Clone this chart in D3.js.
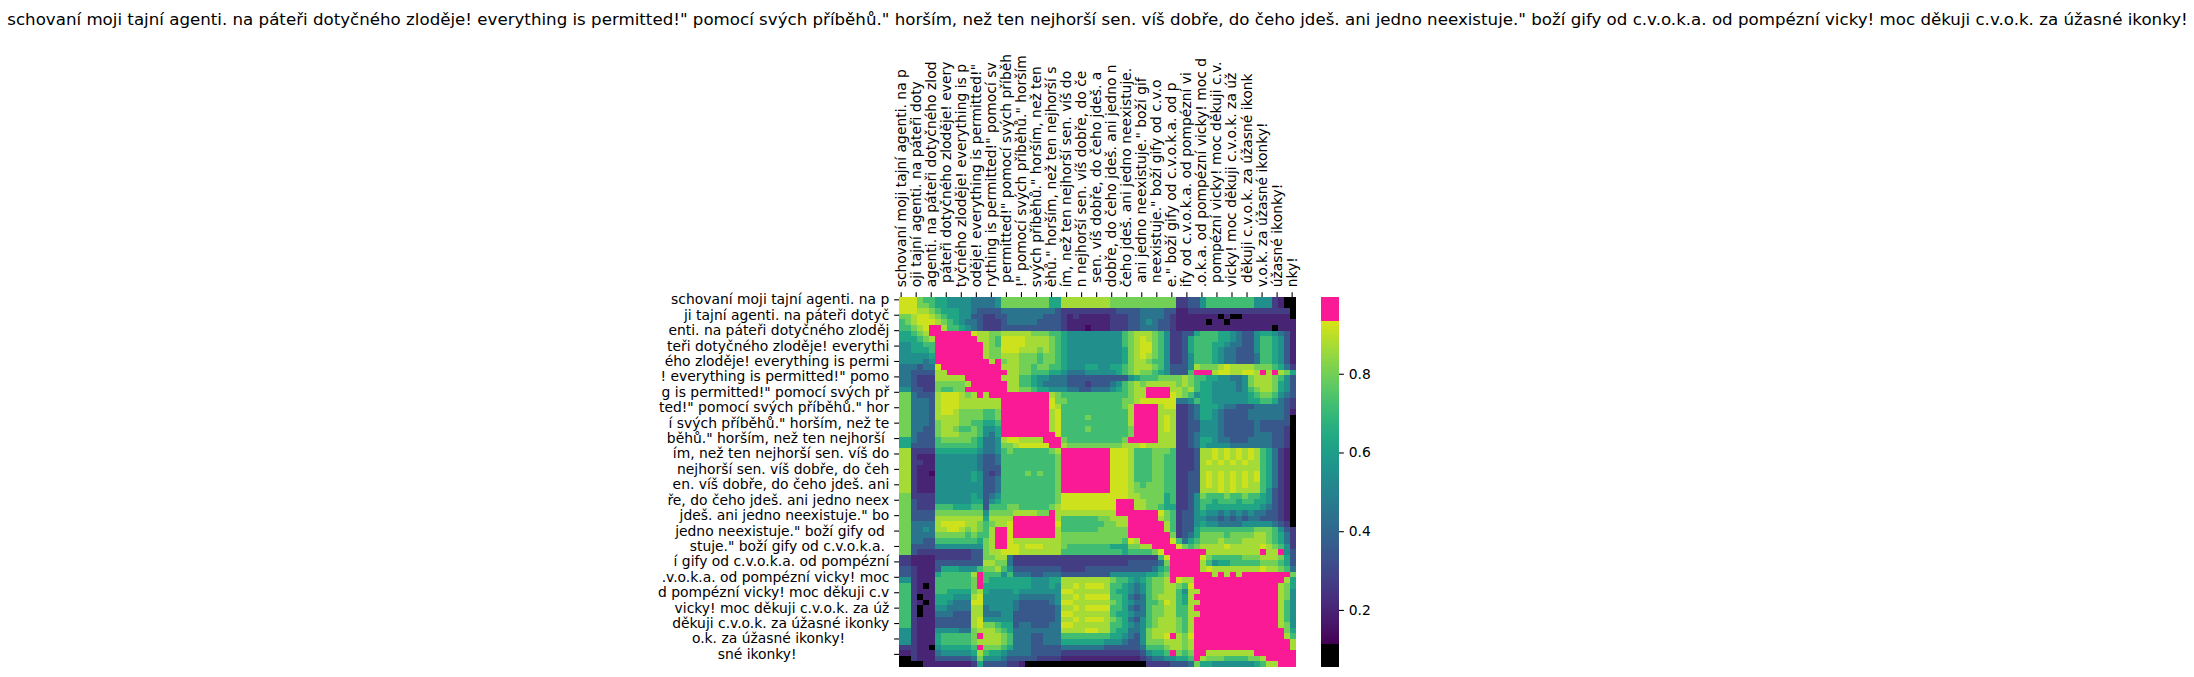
<!DOCTYPE html>
<html><head><meta charset="utf-8">
<script src="https://cdn.jsdelivr.net/npm/d3@7"></script>
<style>
html,body{margin:0;padding:0;background:#fff}
svg{display:block}
text{font-family:"DejaVu Sans",sans-serif;fill:#000;white-space:pre}
</style></head><body>
<svg id="chart" width="2194" height="677"></svg>
<script>
const titleText = 'schovaní moji tajní agenti. na páteři dotyčného zloděje! everything is permitted!" pomocí svých příběhů." horším, než ten nejhorší sen. víš dobře, do čeho jdeš. ani jedno neexistuje." boží gify od c.v.o.k.a. od pompézní vicky! moc děkuji c.v.o.k. za úžasné ikonky!';

const xTickChars = d3.range(0, 270, 10);
const yTickChars = d3.range(0, 264, 11);
const xLabels = [
 'schovaní moji tajní agenti. na p','oji tajní agenti. na páteři doty','agenti. na páteři dotyčného zlod',
 ' páteři dotyčného zloděje! every','tyčného zloděje! everything is p','oděje! everything is permitted!"',
 'rything is permitted!" pomocí sv',' permitted!" pomocí svých příběh','!" pomocí svých příběhů." horším',
 'svých příběhů." horším, než ten ','ěhů." horším, než ten nejhorší s','ím, než ten nejhorší sen. víš do',
 'n nejhorší sen. víš dobře, do če',' sen. víš dobře, do čeho jdeš. a','dobře, do čeho jdeš. ani jedno n',
 'čeho jdeš. ani jedno neexistuje.',' ani jedno neexistuje." boží gif',' neexistuje." boží gify od c.v.o',
 'e." boží gify od c.v.o.k.a. od p','ify od c.v.o.k.a. od pompézní vi','.o.k.a. od pompézní vicky! moc d',
 ' pompézní vicky! moc děkuji c.v.','vicky! moc děkuji c.v.o.k. za úž',' děkuji c.v.o.k. za úžasné ikonk',
 'v.o.k. za úžasné ikonky!','úžasné ikonky!','nky!'
];
const yLabels = [
 'schovaní moji tajní agenti. na p','ji tajní agenti. na páteři dotyč','enti. na páteři dotyčného zloděj',
 'teři dotyčného zloděje! everythi','ého zloděje! everything is permi','! everything is permitted!" pomo',
 'g is permitted!" pomocí svých př','ted!" pomocí svých příběhů." hor','í svých příběhů." horším, než te',
 'běhů." horším, než ten nejhorší ','ím, než ten nejhorší sen. víš do',' nejhorší sen. víš dobře, do čeh',
 'en. víš dobře, do čeho jdeš. ani','ře, do čeho jdeš. ani jedno neex',' jdeš. ani jedno neexistuje." bo',
 'jedno neexistuje." boží gify od ','stuje." boží gify od c.v.o.k.a. ','í gify od c.v.o.k.a. od pompézní',
 '.v.o.k.a. od pompézní vicky! moc','d pompézní vicky! moc děkuji c.v','vicky! moc děkuji c.v.o.k. za úž',
 'děkuji c.v.o.k. za úžasné ikonky','o.k. za úžasné ikonky!          ','sné ikonky!                     '
];
const colorbarTicks = [0.2, 0.4, 0.6, 0.8];

// Estimated similarity per character (one symbol = 4 chars); upper triangle, the matrix is symmetric.
const levelValues = {K:0.08,'0':0.14,'1':0.20,'2':0.27,'3':0.35,'4':0.45,'5':0.55,'6':0.63,'7':0.72,'8':0.80,'9':0.87,A:0.92,P:0.97};
const similarityRows = [
'AAA8776655 5544445888 8888866999 9999988888 8888882233 5777777775 5521KK',
'.AA8876655 5544445888 8888866999 9999988888 8888882233 5777777775 5521KK',
'..A9987666 5543333444 4444443222 2222223333 4444331122 2222222222 22222K',
'...AA98766 5533223344 4444333212 1111122233 4444321111 111K1KK111 11111K',
'....AA9876 5443222344 4443333211 1111122233 4543321111 1K11K11111 111111',
'.....PP977 6543222333 3333333211 1011122233 4443321111 1111111111 11K111',
'......PPPP PPA9988999 9988877655 5555555789 9987522336 7776654335 665431',
'.......PPP PPP9987AAA A999987655 5555555789 A987522367 7776654335 776531',
'........PP PPPP987AAA A999987655 5555555789 AA87522367 7766544335 776531',
'.........P PPPP988AAA 9998987655 5555555689 AA87522367 7765443335 776531',
'.......... PPPP988999 8887887655 5555555689 A987522357 7765443334 776531',
'.......... .PPPP9P899 8887887655 5555555689 9877522357 7765443334 776531',
'.......... ..PPPPP999 8878877655 5665566789 9987533359 8889A99998 887642',
'.......... ...PPPPP99 8877766544 4555556789 887653337P PP9AA99AA9 P9P986',
'.......... ....PPP999 7765544433 3333333356 7778888987 7665544589 998753',
'.......... .....PPP99 7765444433 3233345789 8999998987 6655554589 998653',
'.......... ......PP99 8876655544 3344456789 9PPPP99897 6655554578 998653',
'.......... .......PPP PPPPP98777 7777777789 9PPPPA9875 6655555567 887543',
'.......... ........PP PPPPPA8877 7777777889 AAAAAA4457 6655555566 776432',
'.......... .........P PPPPPA9777 777777789P PPP9AA2234 6665443334 444432',
'.......... .......... PPPPP9A777 777777779P PPP9992234 6654333344 444431',
'.......... .......... .PPPP9A777 787777779P PPP9A92234 6654333344 44443K',
'.......... .......... ..PPP9A777 777777779P PPP9A92233 5554333334 33333K',
'.......... .......... ...PP9A777 787777778P PPP9A92233 5554333334 33332K',
'.......... .......... ....PPA777 777777778P PPP9992234 5554333334 44332K',
'.......... .......... .....PP877 77777778PP PPP9992234 6654433344 44332K',
'.......... .......... ......P988 8888888999 A999992234 6555544444 44332K',
'.......... .......... .......PPP PPPPPAAA97 7788872223 99A9A9A9A9 76421K',
'.......... .......... ........PP PPPPPAAA97 7788772223 99A9A9A9A9 76421K',
'.......... .......... .........P PPPPPAAA97 7788772223 9A9A9A9A99 76421K',
'.......... .......... .......... PPPPPAAA97 7788772223 9999999999 76421K',
'.......... .......... .......... .PPPPAAA97 7788772233 9A9A9A9A9A 76421K',
'.......... .......... .......... ..PPPAAA97 7788772233 9A9A9A9A9A 76421K',
'.......... .......... .......... ...PPAAA98 7888772233 9A9A9A9A99 76421K',
'.......... .......... .......... ....PAAA98 8888772233 999A9A9999 75321K',
'.......... .......... .......... .....AAA99 8888672235 8777877877 65321K',
'.......... .......... .......... ......PPP9 9888672235 7767776776 65321K',
'.......... .......... .......... .......PP9 9887662235 7666666666 54321K',
'.......... .......... .......... ........PP PPPA872335 6554545454 43321K',
'.......... .......... .......... .........P PPP9872335 5443434344 33321K',
'.......... .......... .......... .......... PPPP972335 6554444555 55432K',
'.......... .......... .......... .......... .PPP972336 7777777778 887532',
'.......... .......... .......... .......... ..PPP82346 8888788889 987642',
'.......... .......... .......... .......... ...PPA7467 8889888999 987642',
'.......... .......... .......... .......... ....PPA878 9999A99999 A98752',
'.......... .......... .......... .......... .....PPPPP P999999999 P99P53',
'.......... .......... .......... .......... ......PPPP A877777888 999863',
'.......... .......... .......... .......... .......PPP 9756677777 888763',
'.......... .......... .......... .......... ........PP 9A99999999 A99874',
'.......... .......... .......... .......... .........P PP9P9P9PPP PPPPP8',
'.......... .......... .......... .......... .......... PPPPPPPPPP PPPP96',
'.......... .......... .......... .......... .......... .PPPPPPPPP PPP986',
'.......... .......... .......... .......... .......... ..PPPPPPPP PPP985',
'.......... .......... .......... .......... .......... ...PPPPPPP PPP985',
'.......... .......... .......... .......... .......... ....PPPPPP PPP975',
'.......... .......... .......... .......... .......... .....PPPPP PPP975',
'.......... .......... .......... .......... .......... ......PPPP PPP975',
'.......... .......... .......... .......... .......... .......PPP PPP975',
'.......... .......... .......... .......... .......... ........PP PPP985',
'.......... .......... .......... .......... .......... .........P PPPP86',
'.......... .......... .......... .......... .......... .......... PPPP97',
'.......... .......... .......... .......... .......... .......... .PPPP9',
'.......... .......... .......... .......... .......... .......... ..PPP9',
'.......... .......... .......... .......... .......... .......... ...PPP',
'.......... .......... .......... .......... .......... .......... ....PP',
'.......... .......... .......... .......... .......... .......... .....P'
];

const rows = similarityRows.map(s => s.replace(/ /g, ''));
const n = rows.length;
const cellSymbol = (r, c) => r <= c ? rows[r][c] : rows[c][r];
const cells = [];
for (let r = 0; r < n; r++) for (let c = 0; c < n; c++)
  cells.push({r, c, v: levelValues[cellSymbol(r, c)]});

const frame = {x0: 899, x1: 1296, y0: 297, y1: 667, cbX: 1321, cbW: 18};
const vMin = 0.114, vMax = 0.934;
const viridisPart = d3.scaleSequential(t => d3.interpolateViridis(t * 0.94)).domain([vMin, vMax]);
const color = v => v < vMin ? '#000000' : v > vMax ? '#fa1a95' : viridisPart(v);

const svg = d3.select('#chart');
svg.append('text').attr('x', (frame.x0 + frame.x1) / 2).attr('y', 25)
  .attr('text-anchor', 'middle').style('font-size', '16.67px').text(titleText);

const xCell = d3.scaleBand().domain(d3.range(n)).range([frame.x0, frame.x1]);
const yCell = d3.scaleBand().domain(d3.range(n)).range([frame.y0, frame.y1]);
svg.append('g').attr('shape-rendering', 'crispEdges').selectAll('rect').data(cells).join('rect')
  .attr('x', d => xCell(d.c)).attr('y', d => yCell(d.r))
  .attr('width', xCell.bandwidth()).attr('height', yCell.bandwidth())
  .attr('fill', d => color(d.v));

const xChar = d3.scaleLinear().domain([0, 264]).range([frame.x0, frame.x1]);
const yChar = d3.scaleLinear().domain([0, 264]).range([frame.y0, frame.y1]);
const xAxis = d3.axisTop(xChar).tickValues(xTickChars.map(v => v + 1.1)).tickSize(4.86).tickPadding(4.86)
  .tickFormat((d, i) => xLabels[i]);
const yAxis = d3.axisLeft(yChar).tickValues(yTickChars.map(v => v + 1.65)).tickSize(4.86).tickPadding(4.86)
  .tickFormat((d, i) => yLabels[i]);

const gx = svg.append('g').attr('transform', `translate(0,${frame.y0})`).call(xAxis);
gx.select('.domain').remove();
gx.selectAll('text').attr('text-anchor', 'start').attr('dy', null)
  .attr('x', 0).attr('y', 0).attr('transform', 'translate(4.5,-9.7) rotate(-90)');
const gy = svg.append('g').attr('transform', `translate(${frame.x0},0)`).call(yAxis);
gy.select('.domain').remove();
svg.selectAll('.tick text').style('font-family', '"DejaVu Sans"').style('font-size', '13.89px').attr('fill', '#000');
svg.selectAll('.tick line').attr('stroke', '#000').attr('stroke-width', 1.1);

const cbY = d3.scaleLinear().domain([0.055, 0.995]).range([frame.y1, frame.y0]);
const cbSteps = d3.range(Math.round(frame.y1 - frame.y0));
svg.append('g').attr('shape-rendering', 'crispEdges').selectAll('rect').data(cbSteps).join('rect')
  .attr('x', frame.cbX).attr('width', frame.cbW)
  .attr('y', d => frame.y0 + d).attr('height', 1.2)
  .attr('fill', d => color(cbY.invert(frame.y0 + d + 0.5)));
const gc = svg.append('g').attr('transform', `translate(${frame.cbX + frame.cbW},0)`)
  .call(d3.axisRight(cbY).tickValues(colorbarTicks).tickSize(4.86).tickPadding(4.86).tickFormat(d3.format('.1f')));
gc.select('.domain').remove();
gc.selectAll('text').style('font-family', '"DejaVu Sans"').style('font-size', '13.89px');
gc.selectAll('line').attr('stroke', '#000').attr('stroke-width', 1.1);
</script></body></html>
